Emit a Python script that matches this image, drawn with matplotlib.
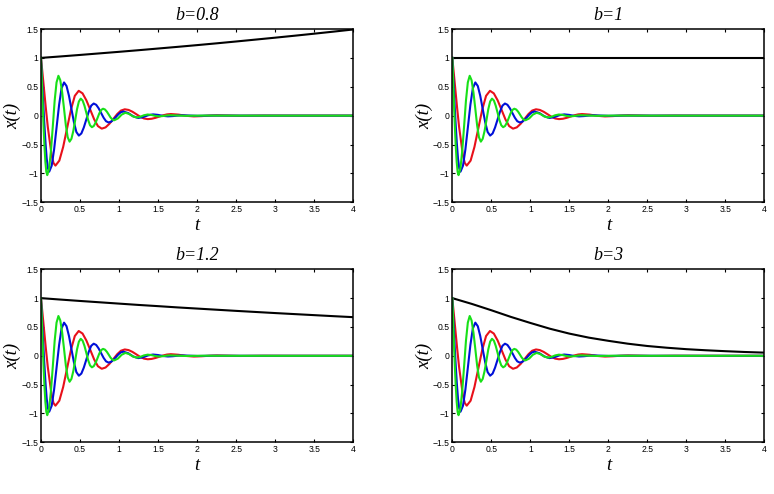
import matplotlib
matplotlib.use("Agg")
import matplotlib.pyplot as plt

# ---- data ----
b_values = ["0.8", "1", "1.2", "3"]

t_red = [0, 0.0375, 0.062, 0.087, 0.136, 0.160, 0.185,
         0.235, 0.284, 0.334, 0.384, 0.433, 0.483,
         0.532, 0.581, 0.631, 0.680, 0.729, 0.778,
         0.827, 0.876, 0.926, 0.975, 1.024, 1.073,
         1.122, 1.171, 1.221, 1.270, 1.319, 1.368,
         1.417, 1.466, 1.516, 1.565, 1.614, 1.663,
         1.761, 1.860, 1.958, 2.056, 2.155, 2.253,
         2.55, 2.85, 3.2, 4.0]
x_red = [1.0, 0.477, 0.130, -0.194, -0.685, -0.819, -0.865,
         -0.778, -0.541, -0.218, 0.106, 0.343, 0.430,
         0.386, 0.266, 0.103, -0.061, -0.181, -0.225,
         -0.203, -0.141, -0.058, 0.026, 0.088, 0.110,
         0.099, 0.068, 0.025, -0.018, -0.049, -0.060,
         -0.054, -0.038, -0.016, 0.006, 0.022, 0.028,
         0.018, -0.003, -0.013, -0.008, 0.001, 0.006,
         -0.003, 0.001, 0.0, 0.0]

t_blue = [0, 0.010, 0.026, 0.042, 0.058, 0.073, 0.089, 0.105,
          0.137, 0.168, 0.200, 0.232, 0.263, 0.295,
          0.327, 0.358, 0.390, 0.422, 0.453, 0.485,
          0.517, 0.548, 0.580, 0.612, 0.643, 0.675,
          0.707, 0.738, 0.770, 0.802, 0.833, 0.865,
          0.897, 0.928, 0.960, 0.992, 1.023, 1.055,
          1.118, 1.182, 1.245, 1.308, 1.372, 1.435,
          1.498, 1.562, 1.625, 1.688, 1.752, 1.815,
          2.005, 2.2, 2.6, 4.0]
x_blue = [1.0, 0.721, 0.283, -0.125, -0.475, -0.743, -0.912, -0.970,
          -0.866, -0.584, -0.198, 0.189, 0.472, 0.575,
          0.513, 0.345, 0.115, -0.115, -0.283, -0.345,
          -0.308, -0.206, -0.068, 0.071, 0.173, 0.210,
          0.188, 0.128, 0.046, -0.036, -0.096, -0.118,
          -0.105, -0.071, -0.023, 0.025, 0.059, 0.072,
          0.044, -0.012, -0.040, -0.025, 0.007, 0.022,
          0.0135, -0.0035, -0.012, -0.0075, 0.0015, 0.006,
          -0.003, 0.001, 0.0, 0.0]

t_green = [0, 0.0085, 0.0204, 0.0323, 0.0443, 0.0562, 0.068, 0.080,
           0.104, 0.128, 0.152, 0.175, 0.199, 0.223,
           0.247, 0.271, 0.295, 0.318, 0.342, 0.366,
           0.390, 0.414, 0.438, 0.461, 0.485, 0.509,
           0.533, 0.557, 0.581, 0.604, 0.628, 0.652,
           0.676, 0.700, 0.724, 0.747, 0.771, 0.795,
           0.819, 0.843, 0.867, 0.890, 0.914, 0.938,
           0.986, 1.033, 1.081, 1.129, 1.176, 1.224,
           1.272, 1.319, 1.367, 1.415, 1.462, 1.510,
           1.558, 1.605, 1.653, 1.85, 2.1, 2.5, 4.0]
x_green = [1.0, 0.680, 0.238, -0.174, -0.529, -0.801, -0.972, -1.030,
           -0.915, -0.600, -0.170, 0.260, 0.575, 0.690,
           0.614, 0.405, 0.120, -0.165, -0.374, -0.450,
           -0.400, -0.264, -0.078, 0.109, 0.245, 0.295,
           0.262, 0.171, 0.048, -0.076, -0.167, -0.200,
           -0.179, -0.120, -0.040, 0.040, 0.099, 0.120,
           0.107, 0.070, 0.020, -0.030, -0.067, -0.080,
           -0.048, 0.018, 0.050, 0.0295, -0.0115, -0.032,
           -0.019, 0.007, 0.020, 0.012, -0.004, -0.012,
           -0.0073, 0.0023, 0.007, -0.003, 0.001, 0.0, 0.0]

t_black = [0, 0.25, 0.5, 0.75, 1.0, 1.25, 1.5, 1.75, 2.0,
           2.25, 2.5, 2.75, 3.0, 3.25, 3.5, 3.75, 4.0]
black_b08 = [1.0, 1.025, 1.051, 1.078, 1.105, 1.133, 1.162, 1.191, 1.221,
             1.252, 1.284, 1.317, 1.350, 1.384, 1.419, 1.455, 1.492]
black_b1 = [1.0] * 17
black_b12 = [1.0, 0.975, 0.951, 0.928, 0.905, 0.882, 0.861, 0.839, 0.819,
             0.799, 0.779, 0.760, 0.741, 0.723, 0.705, 0.687, 0.670]
black_b3 = [1.0, 0.90, 0.79, 0.675, 0.57, 0.47, 0.385, 0.315, 0.26,
            0.21, 0.17, 0.14, 0.115, 0.096, 0.08, 0.066, 0.055]
black_curves = [black_b08, black_b1, black_b12, black_b3]

xticks = [0, 0.5, 1, 1.5, 2, 2.5, 3, 3.5, 4]
xticklabels = ["0", "0.5", "1", "1.5", "2", "2.5", "3", "3.5", "4"]
yticks = [-1.5, -1, -0.5, 0, 0.5, 1, 1.5]
yticklabels = ["\u22121.5", "\u22121", "\u22120.5", "0", "0.5", "1", "1.5"]

# ---- figure ----
W, H = 774, 494
fig = plt.figure(figsize=(W / 100, H / 100), dpi=100)

positions = [
    [41 / W, 1 - 202.3 / H, 312.3 / W, 173.3 / H],
    [452.3 / W, 1 - 202.3 / H, 312.0 / W, 173.3 / H],
    [41 / W, 1 - 442.3 / H, 312.3 / W, 173.0 / H],
    [452.3 / W, 1 - 442.3 / H, 312.0 / W, 173.0 / H],
]

serif_it = dict(family="Liberation Serif", style="italic")
lw = 1.5

for pos, bval, blk in zip(positions, b_values, black_curves):
    ax = fig.add_axes(pos)
    ax.plot(t_black, blk, color="black", lw=lw)
    ax.plot(t_red, x_red, color="#e8101a", lw=lw)
    ax.plot(t_blue, x_blue, color="#0010d8", lw=lw)
    ax.plot(t_green, x_green, color="#18e018", lw=lw)
    ax.set_xlim(0, 4)
    ax.set_ylim(-1.5, 1.5)
    ax.set_xticks(xticks)
    ax.set_xticklabels(xticklabels)
    ax.set_yticks(yticks)
    ax.set_yticklabels(yticklabels)
    ax.tick_params(direction="in", top=True, right=True, length=2.5,
                   width=0.8, labelsize=6.2, pad=2)
    for lab in ax.get_xticklabels() + ax.get_yticklabels():
        lab.set_family("Liberation Sans")
    for sp in ax.spines.values():
        sp.set_linewidth(1.1)
    ax.set_title("b=" + bval, fontsize=13, y=1.052, pad=0, **serif_it)
    ax.set_xlabel("t", fontsize=13.5, **serif_it)
    ax.set_ylabel("x(t)", fontsize=13.5, **serif_it)
    ax.xaxis.set_label_coords(0.5, -0.085)
    ax.yaxis.set_label_coords(-0.062, 0.5)

fig.savefig("out.png", dpi=100)
